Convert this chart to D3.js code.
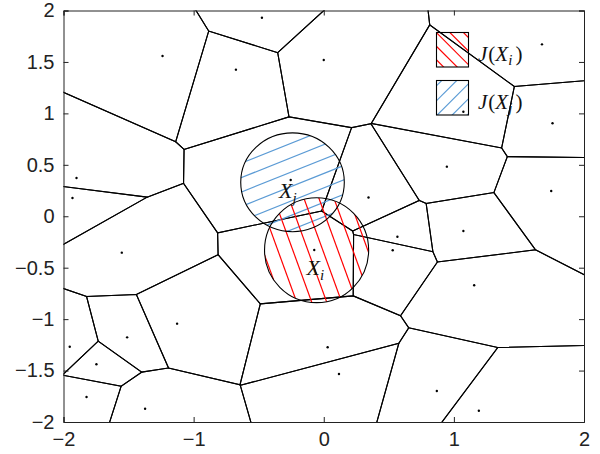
<!DOCTYPE html>
<html>
<head>
<meta charset="utf-8">
<script src="https://cdn.jsdelivr.net/npm/d3@7"></script>
<style>
  body { margin: 0; background: #fff; }
  .tick text { font-family: "Liberation Sans", Arial, sans-serif; font-size: 20px; fill: #222; }
  .lbl { font-family: "Liberation Serif", "DejaVu Serif", serif; fill: #111; }
</style>
</head>
<body>
<div id="chart"></div>
<script>
// generator points (data coords)
var ptX = [-0.475, -1.239, -0.675, 0.0, 1.677, 1.073, 1.758, -1.900, -1.931, -0.254,
           0.344, 0.946, 1.748, -1.552, -0.073, 0.566, 0.530, 1.073, 1.156, -1.127,
           -1.511, -1.952, -1.747, 0.030, 0.117, -1.823, -1.373, 0.869, 1.192];
var ptY = [1.930, 1.558, 1.425, 1.519, 1.671, 1.016, 0.904, 0.372, 0.177, 0.352,
           0.182, 0.482, 0.245, -0.354, -0.328, -0.199, -0.331, -0.143, -0.671, -1.044,
           -1.177, -1.268, -1.439, -1.274, -1.533, -1.757, -1.871, -1.699, -1.890];

// neighbourhood circles: X_i (red), X_j (blue)
var circNames = ["i", "j"];
var circCx = [-0.055, -0.24];
var circCy = [-0.33, 0.33];
var circRx = [0.40, 0.398];
var circRy = [0.51, 0.48];

var xTicks = [-2, -1, 0, 1, 2];
var yTicks = [-2, -1.5, -1, -0.5, 0, 0.5, 1, 1.5, 2];

var margin = {top: 10.5, right: 16, bottom: 32, left: 63.5}
  , width = 600 - margin.left - margin.right
  , height = 454 - margin.top - margin.bottom;

var xScale = d3.scaleLinear().domain([-2, 2]).range([0, width]);
var yScale = d3.scaleLinear().domain([-2, 2]).range([height, 0]);

var svg = d3.select("#chart").append("svg")
    .attr("width", 600)
    .attr("height", 454)
  .append("g")
    .attr("transform", "translate(" + margin.left + "," + margin.top + ")");

var defs = svg.append("defs");
defs.append("clipPath").attr("id", "plotClip")
  .append("rect").attr("width", width).attr("height", height);

// voronoi in data space
var pts = d3.range(ptX.length).map(function(i) { return [ptX[i], ptY[i]]; });
var vor = d3.Delaunay.from(pts).voronoi([-12, -12, 12, 12]);

var plot = svg.append("g").attr("clip-path", "url(#plotClip)");

plot.selectAll(".cell")
    .data(Array.from(vor.cellPolygons()))
  .enter().append("path")
    .attr("class", "cell")
    .attr("d", function(poly) {
      return "M" + poly.map(function(p) { return xScale(p[0]) + "," + yScale(p[1]); }).join("L") + "Z";
    })
    .style("fill", "none")
    .style("stroke", "#000")
    .style("stroke-width", 1.1);

plot.selectAll(".dot")
    .data(pts)
  .enter().append("circle")
    .attr("class", "dot")
    .attr("cx", function(d) { return xScale(d[0]); })
    .attr("cy", function(d) { return yScale(d[1]); })
    .attr("r", 1.2)
    .style("fill", "#000");

// hatching helper: lines with direction angle ang (deg, screen), spacing sp, phase through point p0
function hatch(g, cx, cy, r, ang, sp, p0, color) {
  var a = ang * Math.PI / 180;
  var dx = Math.cos(a), dy = Math.sin(a);
  var nx = -dy, ny = dx;
  var c0 = nx * p0[0] + ny * p0[1];
  var cc = nx * cx + ny * cy;
  var k0 = Math.floor((cc - r - c0) / sp), k1 = Math.ceil((cc + r - c0) / sp);
  d3.range(k0, k1 + 1).forEach(function(k) {
    var c = c0 + k * sp;
    var px = cx + nx * (c - cc), py = cy + ny * (c - cc);
    g.append("line")
      .attr("x1", px - dx * r * 1.5).attr("y1", py - dy * r * 1.5)
      .attr("x2", px + dx * r * 1.5).attr("y2", py + dy * r * 1.5)
      .style("stroke", color).style("stroke-width", 1.2);
  });
}

var hatchCfg = {
  i: {ang: 70, sp: 14.1, p0: [280 - margin.left, 215 - margin.top], color: "#ff0000"},
  j: {ang: -21.8, sp: 13.4, p0: [245 - margin.left, 161.7 - margin.top], color: "#5b9bd5"}
};

// blue first, red on top
[1, 0].forEach(function(i) {
  var cx = xScale(circCx[i]), cy = yScale(circCy[i]);
  var rx = xScale(circCx[i] + circRx[i]) - cx, ry = cy - yScale(circCy[i] + circRy[i]);
  var id = "clipC" + circNames[i];
  defs.append("clipPath").attr("id", id)
    .append("ellipse").attr("cx", cx).attr("cy", cy).attr("rx", rx).attr("ry", ry);
  var cfg = hatchCfg[circNames[i]];
  var g = plot.append("g").attr("clip-path", "url(#" + id + ")");
  hatch(g, cx, cy, Math.max(rx, ry), cfg.ang, cfg.sp, cfg.p0, cfg.color);
});
[1, 0].forEach(function(i) {
  var cx = xScale(circCx[i]), cy = yScale(circCy[i]);
  plot.append("ellipse")
    .attr("cx", cx).attr("cy", cy)
    .attr("rx", xScale(circCx[i] + circRx[i]) - cx)
    .attr("ry", cy - yScale(circCy[i] + circRy[i]))
    .style("fill", "none").style("stroke", "#000").style("stroke-width", 1.1);
});

// point labels
function pointLabel(x, y, sub) {
  var t = svg.append("text").attr("class", "lbl")
    .attr("x", x).attr("y", y)
    .style("font-size", "22px").style("font-style", "italic");
  t.append("tspan").text("X");
  t.append("tspan").attr("dy", 5).style("font-size", "15px").text(sub);
}
pointLabel(279 - margin.left, 198 - margin.top, "j");
pointLabel(306.5 - margin.left, 275 - margin.top, "i");

// legend
var legend = [
  {sub: "i", color: "#ff0000", ang: 45, sp: 9.6, y: 32.5},
  {sub: "j", color: "#5b9bd5", ang: -45, sp: 10.6, y: 80.5}
];
legend.forEach(function(d, i) {
  var x0 = 436.5 - margin.left, y0 = d.y - margin.top, w = 32, h = 34.5;
  var id = "clipL" + i;
  defs.append("clipPath").attr("id", id)
    .append("rect").attr("x", x0).attr("y", y0).attr("width", w).attr("height", h);
  var g = svg.append("g").attr("clip-path", "url(#" + id + ")");
  hatch(g, x0 + w / 2, y0 + h / 2, 26, d.ang, d.sp, [x0 + w / 2 + (i ? 2 : 1), y0 + h / 2], d.color);
  svg.append("rect").attr("x", x0).attr("y", y0).attr("width", w).attr("height", h)
    .style("fill", "none").style("stroke", "#000").style("stroke-width", 1.1);
  var t = svg.append("text").attr("class", "lbl")
    .attr("x", 478 - margin.left).attr("y", y0 + 28)
    .style("font-size", "21px");
  t.append("tspan").style("font-style", "italic").text("J");
  t.append("tspan").attr("dx", 1).text("(");
  t.append("tspan").style("font-style", "italic").text("X");
  t.append("tspan").attr("dy", 4).style("font-style", "italic").style("font-size", "15px").text(d.sub);
  t.append("tspan").attr("dy", -4).attr("x", 515.5 - margin.left).text(")");
});

// axes with inward ticks, box
var axCol = "#222";
svg.append("g")
  .attr("transform", "translate(0," + height + ")")
  .call(d3.axisBottom(xScale).tickValues(xTicks).tickSize(-5).tickPadding(10).tickFormat(d3.format("")));
svg.append("g")
  .call(d3.axisTop(xScale).tickValues(xTicks).tickSize(-5).tickFormat(""));
svg.append("g")
  .call(d3.axisLeft(yScale).tickValues(yTicks).tickSize(-5).tickPadding(9).tickFormat(d3.format("")));
svg.append("g")
  .attr("transform", "translate(" + width + ",0)")
  .call(d3.axisRight(yScale).tickValues(yTicks).tickSize(-5).tickFormat(""));
svg.selectAll(".domain").style("stroke", axCol).style("stroke-width", 1);
svg.selectAll(".tick line").style("stroke", axCol);
</script>
</body>
</html>
